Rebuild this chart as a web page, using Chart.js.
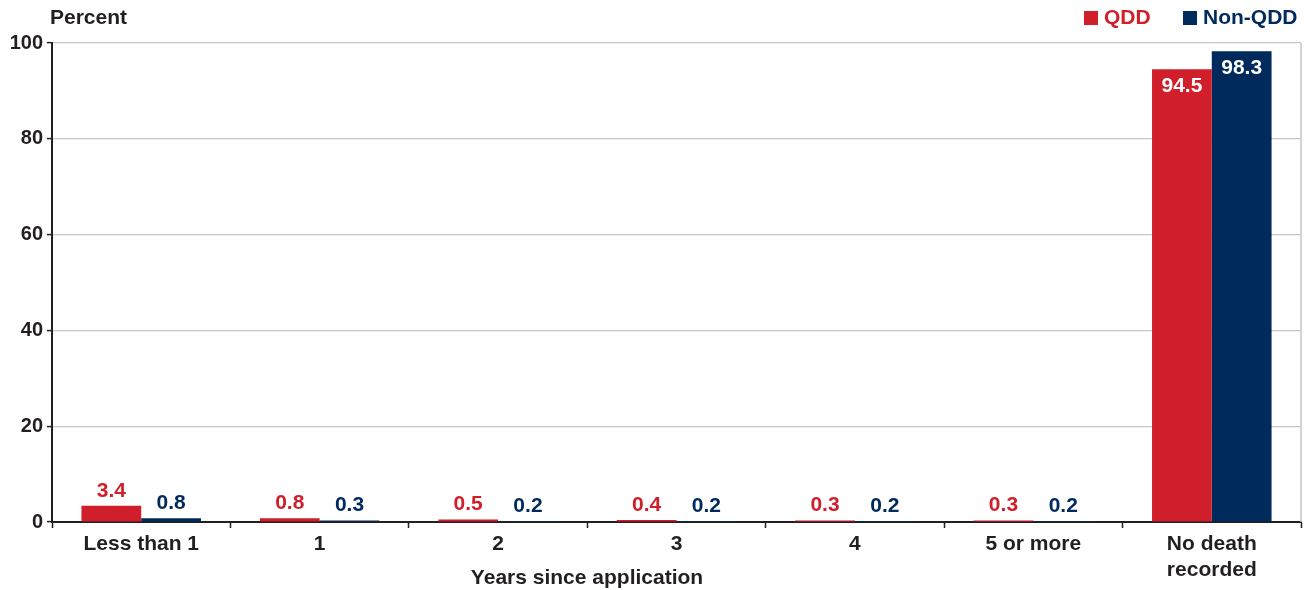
<!DOCTYPE html>
<html>
<head>
<meta charset="utf-8">
<script src="https://cdn.jsdelivr.net/npm/chart.js@4"></script>
<style>
  html, body { margin: 0; padding: 0; background: #fff; }
  #wrap { width: 1312px; height: 590px; }
</style>
</head>
<body>
<div id="wrap"><canvas id="chart"></canvas></div>
<script>
let categories = ['Less than 1', '1', '2', '3', '4', '5 or more', ['No death', 'recorded']];
let qddValues = [3.4, 0.8, 0.5, 0.4, 0.3, 0.3, 94.5];
let nonQddValues = [0.8, 0.3, 0.2, 0.2, 0.2, 0.2, 98.3];
let yTicks = [0, 20, 40, 60, 80, 100];

const RED = '#d01f2b';
const NAVY = '#002a5c';
const TEXT = '#231f20';
const FONT = '"Liberation Sans", Arial, sans-serif';

// labels above small bars, white inside tall bars
const barLabels = {
  id: 'barLabels',
  afterDatasetsDraw(chart) {
    const ctx = chart.ctx;
    ctx.save();
    ctx.font = 'bold 21px ' + FONT;
    ctx.textAlign = 'center';
    ctx.textBaseline = 'middle';
    chart.data.datasets.forEach((ds, i) => {
      chart.getDatasetMeta(i).data.forEach((bar, j) => {
        const v = ds.data[j];
        if (v > 50) {
          ctx.fillStyle = '#fff';
          ctx.fillText(v.toFixed(1), bar.x, bar.y + 17);
        } else {
          ctx.fillStyle = ds.backgroundColor;
          ctx.fillText(v.toFixed(1), bar.x, bar.y - 15);
        }
      });
    });
    ctx.restore();
  }
};

// legend, unit label, right border and axis title
const extras = {
  id: 'extras',
  afterDraw(chart) {
    const ctx = chart.ctx;
    const a = chart.chartArea;
    ctx.save();
    ctx.strokeStyle = '#c4c4c4';
    ctx.lineWidth = 1.5;
    ctx.beginPath();
    ctx.moveTo(a.right, a.top);
    ctx.lineTo(a.right, a.bottom);
    ctx.stroke();

    ctx.font = 'bold 21px ' + FONT;
    ctx.textBaseline = 'middle';
    ctx.textAlign = 'left';
    ctx.fillStyle = TEXT;
    ctx.fillText('Percent', 50, 18);

    ctx.fillStyle = RED;
    ctx.fillRect(1084, 11, 14, 14);
    ctx.fillText('QDD', 1104, 18);
    ctx.fillStyle = NAVY;
    ctx.fillRect(1183, 11, 14, 14);
    ctx.fillText('Non-QDD', 1203, 18);

    ctx.textAlign = 'center';
    ctx.fillStyle = TEXT;
    ctx.fillText('Years since application', 587, 578);
    ctx.restore();
  }
};

let chartCtx = document.getElementById('chart').getContext('2d');
let myChart = new Chart(chartCtx, {
  type: 'bar',
  data: {
    labels: categories,
    datasets: [{
      label: 'QDD',
      data: qddValues,
      backgroundColor: RED,
      categoryPercentage: 0.67,
      barPercentage: 1.0
    }, {
      label: 'Non-QDD',
      data: nonQddValues,
      backgroundColor: NAVY,
      categoryPercentage: 0.67,
      barPercentage: 1.0
    }]
  },
  options: {
    responsive: true,
    maintainAspectRatio: false,
    animation: false,
    layout: {
      padding: { top: 43, right: 11, left: 0, bottom: 0 }
    },
    plugins: {
      legend: { display: false },
      tooltip: { enabled: false }
    },
    scales: {
      x: {
        offset: true,
        grid: {
          offset: true,
          drawOnChartArea: false,
          drawTicks: true,
          tickLength: 6,
          tickWidth: 1.5,
          tickColor: '#231f20'
        },
        border: { color: '#231f20', width: 2 },
        ticks: {
          color: TEXT,
          padding: 3,
          maxRotation: 0,
          autoSkip: false,
          font: { family: FONT, size: 21, weight: 'bold', lineHeight: 1.24 }
        },
        afterFit(scale) { scale.height = 68; }
      },
      y: {
        min: 0,
        max: 100,
        afterBuildTicks(scale) { scale.ticks = yTicks.map(v => ({ value: v })); },
        grid: {
          color: '#c8c8c8',
          lineWidth: 1.2,
          tickLength: 5,
          tickColor: '#231f20',
          tickWidth: 1.5
        },
        border: { color: '#231f20', width: 2 },
        ticks: {
          color: TEXT,
          padding: 4,
          font: { family: FONT, size: 20, weight: 'bold' }
        },
        afterFit(scale) { scale.width = 52; }
      }
    }
  },
  plugins: [barLabels, extras]
});
</script>
</body>
</html>
